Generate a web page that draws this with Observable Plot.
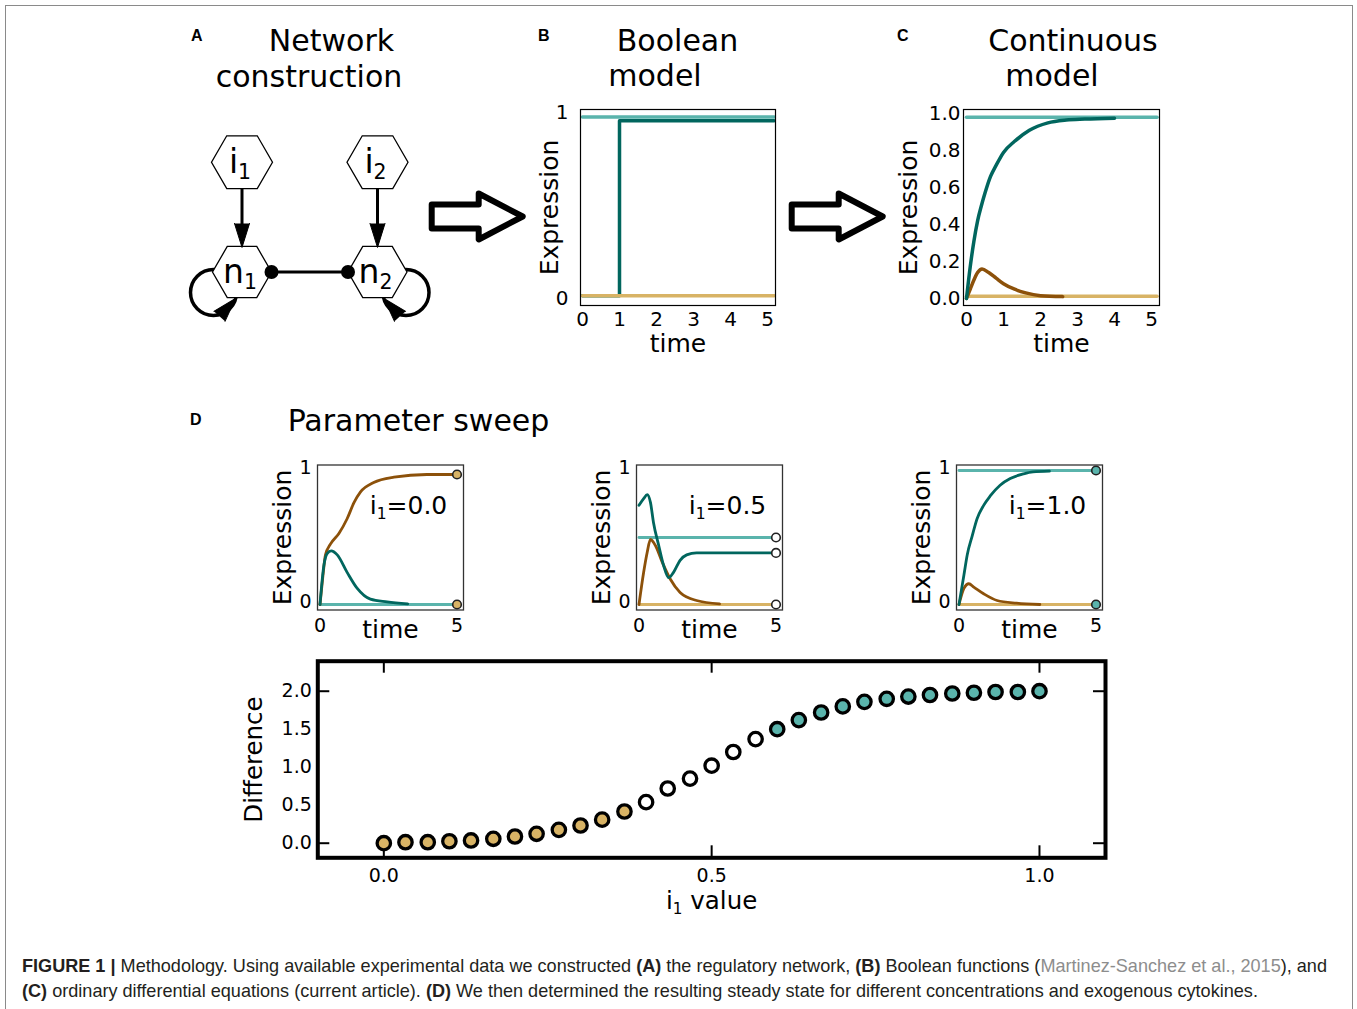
<!DOCTYPE html>
<html>
<head>
<meta charset="utf-8">
<script src="https://cdn.jsdelivr.net/npm/d3@7"></script>
<script src="https://cdn.jsdelivr.net/npm/@observablehq/plot@0.6"></script>
<style>
html,body{margin:0;padding:0;background:#fff;}
#fig{position:relative;width:1357px;height:1009px;overflow:hidden;background:#fff;font-family:"DejaVu Sans",sans-serif;color:#000;}
#border{position:absolute;left:5px;top:5px;width:1346px;height:1100px;border:1px solid #8a8a8a;}
.txt{position:absolute;white-space:nowrap;line-height:1;font-family:"DejaVu Sans",sans-serif;}
.letter{position:absolute;font-family:"Liberation Sans",Arial,sans-serif;font-weight:bold;font-size:16px;line-height:16px;}
.cap{position:absolute;left:22px;font-family:"Liberation Sans Narrow","Liberation Sans",Arial,sans-serif;font-size:18.5px;line-height:22px;color:#231f20;white-space:nowrap;transform-origin:0 50%;}
.cap b{font-weight:bold;}
.cap .ref{color:#8d8d8d;}
</style>
</head>
<body>
<div id="fig"><div id="border"></div></div>
<script>
// ---------------- colours ----------------
const TEAL_LIGHT = "#5ab4ac", TEAL_DARK = "#01665e", BROWN = "#8c510a", TAN = "#d8b365";
const FONT = '"DejaVu Sans", sans-serif';

// ---------------- Panel A: network ----------------
const nodeNames = ["i₁", "i₂", "n₁", "n₂"];
const nodeKind = ["input", "input", "node", "node"];
// diagram layout (page coordinates)
const nodeLayoutX = [241.5, 377, 241.5, 377];
const nodeLayoutY = [161.7, 161.7, 271.5, 271.5];
const activationEdges = [[0, 2], [1, 3]];      // i1 -> n1, i2 -> n2
const couplingEdges = [[2, 3]];                 // n1 -- n2
const selfLoopNodes = [2, 3];

// ---------------- Panel B: Boolean model ----------------
const boolTime = [0, 5.18];
const boolI1 = [0.975, 0.975];
const boolI2 = [0.015, 0.015];
const boolN1Time = [0, 1, 1, 5.18];
const boolN1 = [0.015, 0.015, 0.955, 0.955];
const boolTimeTicks = [0, 1, 2, 3, 4, 5];

// ---------------- Panel C: Continuous model ----------------
const contTime = [0, 5.15];
const contI1 = [0.98, 0.98];
const contI2 = [0.012, 0.012];
const contN1Time = [0, 0.1, 0.2, 0.3, 0.4, 0.5, 0.65, 0.8, 1.0, 1.3, 1.7, 2.2, 2.7, 3.2, 4.0];
const contN1 = [0, 0.17, 0.31, 0.42, 0.50, 0.57, 0.66, 0.72, 0.79, 0.85, 0.91, 0.95, 0.965, 0.97, 0.975];
const contN2Time = [0, 0.1, 0.2, 0.3, 0.42, 0.6, 0.8, 1.0, 1.3, 1.6, 2.0, 2.6];
const contN2 = [0, 0.05, 0.10, 0.14, 0.16, 0.14, 0.11, 0.08, 0.05, 0.03, 0.015, 0.01];
const contYTicks = [0, 0.2, 0.4, 0.6, 0.8, 1.0];

// ---------------- Panel D: sweep examples ----------------
const sweepLabels = ["i₁=0.0", "i₁=0.5", "i₁=1.0"];
const sweepI1 = [0, 0.5, 1.0];
const sweepI2 = [0, 0, 0];
const sweepN1Time = [
  [0, 0.14, 0.26, 0.41, 0.63, 0.99, 1.36, 1.84, 2.45, 3.2],
  [0, 0.17, 0.3, 0.42, 0.53, 0.72, 0.9, 1.08, 1.26, 1.5, 1.74, 2.1, 5.0],
  [0, 0.18, 0.3, 0.48, 0.66, 0.9, 1.14, 1.5, 1.87, 2.35, 2.7, 3.3]
];
const sweepN1 = [
  [0, 0.29, 0.38, 0.40, 0.37, 0.24, 0.12, 0.04, 0.02, 0.005],
  [0.74, 0.79, 0.82, 0.76, 0.61, 0.44, 0.29, 0.20, 0.24, 0.33, 0.37, 0.385, 0.385],
  [0, 0.22, 0.37, 0.51, 0.64, 0.74, 0.81, 0.89, 0.94, 0.975, 0.99, 0.995]
];
const sweepN2Time = [
  [0, 0.1, 0.2, 0.38, 0.69, 0.99, 1.24, 1.48, 1.96, 2.7, 3.9, 5.0],
  [0, 0.17, 0.3, 0.42, 0.6, 0.84, 1.14, 1.5, 2.1, 2.94],
  [0, 0.18, 0.36, 0.54, 0.9, 1.39, 2.1, 2.95]
];
const sweepN2 = [
  [0, 0.2, 0.37, 0.45, 0.53, 0.64, 0.76, 0.84, 0.91, 0.95, 0.97, 0.97],
  [0, 0.24, 0.39, 0.485, 0.44, 0.32, 0.19, 0.09, 0.03, 0.005],
  [0, 0.12, 0.155, 0.13, 0.08, 0.03, 0.01, 0]
];
const sweepSteadyValues = [[0.97, 0], [0.5, 0.385, 0], [1.0, 0]];
const sweepSteadyClass = ["low", "mid", "high"];
const sweepEndTime = 5;

// ---------------- Panel D: parameter sweep ----------------
const i1Values = [0, 0.033, 0.067, 0.1, 0.133, 0.167, 0.2, 0.233, 0.267, 0.3, 0.333, 0.367, 0.4, 0.433, 0.467, 0.5,
  0.533, 0.567, 0.6, 0.633, 0.667, 0.7, 0.733, 0.767, 0.8, 0.833, 0.867, 0.9, 0.933, 0.967, 1.0];
const differenceValues = [0.0, 0.013, 0.013, 0.026, 0.036, 0.058, 0.088, 0.124, 0.176, 0.233, 0.31, 0.417, 0.54, 0.72,
  0.85, 1.02, 1.2, 1.37, 1.5, 1.62, 1.72, 1.8, 1.86, 1.9, 1.93, 1.95, 1.97, 1.98, 1.99, 1.99, 2.0];
const steadyClass = ["low","low","low","low","low","low","low","low","low","low","low","low",
  "mid","mid","mid","mid","mid","mid",
  "high","high","high","high","high","high","high","high","high","high","high","high","high"];
const sweepXTicks = [0, 0.5, 1.0];
const sweepYLabels = [0, 0.5, 1.0, 1.5, 2.0];
const sweepYTicks = [0, 2.0];

const classFill = {low: TAN, mid: "#ffffff", high: TEAL_LIGHT};

// ---------------- helpers ----------------
const fig = document.getElementById("fig");
const baseStyle = {fontFamily: FONT, fontSize: "20px", color: "#000", background: "transparent", overflow: "visible"};
const rows = (ts, vs) => ts.map((t, i) => ({t, v: vs[i]}));
const SUBS = {"₁": "1", "₂": "2"};
function subscriptify(svg) {
  const NS = "http://www.w3.org/2000/svg";
  svg.querySelectorAll("text").forEach(t => {
    const s = t.textContent;
    if (!/[₁₂]/.test(s) || t.querySelector("tspan")) return;
    const fs = parseFloat(getComputedStyle(t).fontSize) || 20;
    const shift = 0.2 * fs;
    t.textContent = "";
    let buf = "", pendingUp = false;
    const flush = () => {
      if (!buf) return;
      const ts = document.createElementNS(NS, "tspan");
      ts.textContent = buf;
      if (pendingUp) { ts.setAttribute("dy", -shift); pendingUp = false; }
      t.appendChild(ts); buf = "";
    };
    for (const ch of s) {
      if (SUBS[ch]) {
        flush();
        const ts = document.createElementNS(NS, "tspan");
        ts.textContent = SUBS[ch];
        ts.setAttribute("font-size", (0.62 * fs) + "px");
        ts.setAttribute("dy", pendingUp ? 0 : shift);
        pendingUp = true;
        t.appendChild(ts);
      } else buf += ch;
    }
    flush();
  });
}
function place(el, left, top) {
  el.style.position = "absolute";
  el.style.left = left + "px";
  el.style.top = top + "px";
  el.style.overflow = "visible";
  el.style.maxWidth = "none";
  fig.appendChild(el);
  subscriptify(el);
}
function addText(html, cx, baseline, size, anchor = "middle") {
  const d = document.createElement("div");
  d.className = "txt";
  d.style.fontSize = size + "px";
  d.innerHTML = html;
  fig.appendChild(d);
  const w = d.getBoundingClientRect().width;
  d.style.left = (anchor === "middle" ? cx - w / 2 : cx) + "px";
  d.style.top = (baseline - 0.846 * size) + "px";
}
function addLetter(ch, left, baseline) {
  const d = document.createElement("div");
  d.className = "letter";
  d.textContent = ch;
  d.style.left = left + "px";
  d.style.top = (baseline - 13.5) + "px";
  fig.appendChild(d);
}
// axis titles
const yTitle = (txt, dx, size = 25) => Plot.text([txt], {frameAnchor: "left", rotate: -90, dx, fontSize: size, textAnchor: "middle", lineAnchor: "middle"});
const xTitle = (txt, dy, size = 25, dx = 0) => Plot.text([txt], {frameAnchor: "bottom", dy, dx, fontSize: size, textAnchor: "middle", lineAnchor: "middle"});

// ---------------- titles ----------------
addText("Network", 331.5, 51.5, 30);
addText("construction", 309, 87, 30);
addText("Boolean", 677.5, 51.5, 30);
addText("model", 655, 86.5, 30);
addText("Continuous", 1073, 51.5, 30);
addText("model", 1052, 86.5, 30);
addText("Parameter sweep", 418.5, 431, 30);
addLetter("A", 191, 41.7);
addLetter("B", 538, 41.7);
addLetter("C", 897, 41.7);
addLetter("D", 190, 425);

// ---------------- Panel A ----------------
const flatHexagon = {
  draw(ctx, size) {
    const r = Math.sqrt(size / Math.PI), h = r * Math.sqrt(3) / 2;
    ctx.moveTo(r, 0); ctx.lineTo(r / 2, h); ctx.lineTo(-r / 2, h);
    ctx.lineTo(-r, 0); ctx.lineTo(-r / 2, -h); ctx.lineTo(r / 2, -h); ctx.closePath();
  }
};
const nodes = nodeNames.map((name, i) => ({name, kind: nodeKind[i], x: nodeLayoutX[i], y: nodeLayoutY[i]}));
const hexR = {input: 30.5, node: 29.5};
const actLinks = activationEdges.map(([a, b]) => ({
  x1: nodes[a].x, y1: nodes[a].y + hexR.input * 0.866,
  x2: nodes[b].x, y2: nodes[b].y - hexR.node * 0.866 - 8
}));
const actHeads = activationEdges.map(([a, b]) => ({x: nodes[b].x, y: nodes[b].y - hexR.node * 0.866 + 1, rotate: 180}));
const coupLinks = couplingEdges.map(([a, b]) => ({x1: nodes[a].x + hexR.node, y1: nodes[a].y, x2: nodes[b].x - hexR.node, y2: nodes[b].y}));
const coupEnds = coupLinks.flatMap(l => [{x: l.x1, y: l.y1}, {x: l.x2, y: l.y2}]);
const loops = selfLoopNodes.map((k, j) => ({x: nodes[k].x + (j === 0 ? -28.5 : 28.5), y: nodes[k].y + 20.5}));
const loopHeads = selfLoopNodes.map((k, j) => ({x: nodes[k].x + (j === 0 ? -6.5 : 6.5), y: nodes[k].y + 26.5, rotate: j === 0 ? 42 : -42}));

const net = Plot.plot({
  width: 270, height: 220, margin: 0,
  x: {domain: [180, 450], axis: null}, y: {domain: [340, 120], axis: null},
  style: baseStyle,
  marks: [
    Plot.dot(loops, {x: "x", y: "y", r: 23, fill: "none", stroke: "#000", strokeWidth: 3.5}),
    Plot.link(actLinks, {x1: "x1", y1: "y1", x2: "x2", y2: "y2", stroke: "#000", strokeWidth: 3}),
    Plot.link(coupLinks, {x1: "x1", y1: "y1", x2: "x2", y2: "y2", stroke: "#000", strokeWidth: 3}),
    Plot.dot(nodes.filter(d => d.kind === "input"), {x: "x", y: "y", r: hexR.input, symbol: flatHexagon, fill: "#fff", stroke: "#000", strokeWidth: 1.3}),
    Plot.dot(nodes.filter(d => d.kind === "node"), {x: "x", y: "y", r: hexR.node, symbol: flatHexagon, fill: "#fff", stroke: "#000", strokeWidth: 1.3}),
    Plot.text(nodes, {x: "x", y: "y", text: "name", fontSize: 33, dx: -2, dy: 0}),
    Plot.vector(actHeads.concat(loopHeads), {x: "x", y: "y", rotate: "rotate", length: 24, r: 7.5, shape: "spike", anchor: "end", fill: "#000", stroke: "#000", strokeWidth: 1}),
    Plot.dot(coupEnds, {x: "x", y: "y", r: 7, fill: "#000"})
  ]
});
place(net, 180, 120);

// ---------------- stage arrows ----------------
const blockArrow = {
  draw(ctx, size) {
    const r = Math.sqrt(size / Math.PI);
    const hx = r * 0.033, hh = r * 0.505, sh = r * 0.264;
    ctx.moveTo(-r, -sh); ctx.lineTo(hx, -sh); ctx.lineTo(hx, -hh); ctx.lineTo(r, 0);
    ctx.lineTo(hx, hh); ctx.lineTo(hx, sh); ctx.lineTo(-r, sh); ctx.closePath();
  }
};
const stageArrows = [{x: 476.7, y: 216}, {x: 836.7, y: 216}];
const conn = Plot.plot({
  width: 520, height: 90, margin: 0,
  x: {domain: [400, 920], axis: null}, y: {domain: [260, 170], axis: null},
  style: baseStyle,
  marks: [Plot.dot(stageArrows, {x: "x", y: "y", r: 45.5, symbol: blockArrow, fill: "#fff", stroke: "#000", strokeWidth: 6, strokeLinejoin: "round"})]
});
place(conn, 400, 170);

// ---------------- Panel B ----------------
const panelB = Plot.plot({
  width: 270, height: 270, marginLeft: 60, marginRight: 15, marginTop: 19, marginBottom: 55,
  style: baseStyle,
  x: {domain: [-0.054, 5.216]}, y: {domain: [-0.038, 1.016]},
  marks: [
    Plot.axisX({ticks: boolTimeTicks, tickFormat: "d", tickSize: 0, tickPadding: 6, fontSize: 20, label: null}),
    Plot.axisY({ticks: [0, 1], tickFormat: "d", tickSize: 0, tickPadding: 12, fontSize: 20, label: null}),
    Plot.line(rows(boolN1Time, boolN1), {x: "t", y: "v", stroke: TEAL_DARK, strokeWidth: 3.5}),
    Plot.line(rows(boolTime, boolI1), {x: "t", y: "v", stroke: TEAL_LIGHT, strokeWidth: 3.5}),
    Plot.line(rows(boolTime, boolI2), {x: "t", y: "v", stroke: TAN, strokeWidth: 3.5}),
    Plot.frame({stroke: "#000", strokeWidth: 1.2}),
    yTitle("Expression", -31),
    xTitle("time", 38.5)
  ]
});
place(panelB, 520, 90);

// ---------------- Panel C ----------------
const panelC = Plot.plot({
  width: 300, height: 270, marginLeft: 83, marginRight: 21, marginTop: 19, marginBottom: 55,
  style: baseStyle,
  x: {domain: [-0.081, 5.216]}, y: {domain: [-0.038, 1.022]},
  marks: [
    Plot.axisX({ticks: boolTimeTicks, tickFormat: "d", tickSize: 0, tickPadding: 6, fontSize: 20, label: null}),
    Plot.axisY({ticks: contYTicks, tickFormat: ".1f", tickSize: 0, tickPadding: 3, fontSize: 20, label: null}),
    Plot.line(rows(contTime, contI2), {x: "t", y: "v", stroke: TAN, strokeWidth: 3.5}),
    Plot.line(rows(contTime, contI1), {x: "t", y: "v", stroke: TEAL_LIGHT, strokeWidth: 3.5}),
    Plot.line(rows(contN2Time, contN2), {x: "t", y: "v", stroke: BROWN, strokeWidth: 3.5, curve: "monotone-x"}),
    Plot.line(rows(contN1Time, contN1), {x: "t", y: "v", stroke: TEAL_DARK, strokeWidth: 3.5, curve: "monotone-x"}),
    Plot.frame({stroke: "#000", strokeWidth: 1.2}),
    yTitle("Expression", -55),
    xTitle("time", 38.5)
  ]
});
place(panelC, 880, 90);

// ---------------- Panel D small plots ----------------
const smallLeft = [260, 579, 899];
sweepLabels.forEach((label, k) => {
  const constRows = (v) => rows([0, sweepEndTime], [v, v]);
  const ends = sweepSteadyValues[k].map(v => ({t: sweepEndTime, v}));
  const p = Plot.plot({
    width: 220, height: 190, marginLeft: 57, marginRight: 17, marginTop: 9.5, marginBottom: 35.5,
    style: baseStyle,
    x: {domain: [-0.091, 5.237]}, y: {domain: [-0.041, 1.041]},
    marks: [
      Plot.axisX({ticks: [0, 5], tickFormat: "d", tickSize: 0, tickPadding: 8, fontSize: 19, label: null}),
      Plot.axisY({ticks: [0, 1], tickFormat: "d", tickSize: 0, tickPadding: 6, fontSize: 19, dy: -3, label: null}),
      Plot.line(constRows(sweepI2[k]), {x: "t", y: "v", stroke: TAN, strokeWidth: 2.8}),
      Plot.line(constRows(sweepI1[k]), {x: "t", y: "v", stroke: TEAL_LIGHT, strokeWidth: 2.8}),
      Plot.line(rows(sweepN2Time[k], sweepN2[k]), {x: "t", y: "v", stroke: BROWN, strokeWidth: 2.8, curve: "monotone-x"}),
      Plot.line(rows(sweepN1Time[k], sweepN1[k]), {x: "t", y: "v", stroke: TEAL_DARK, strokeWidth: 2.8, curve: "monotone-x"}),
      Plot.frame({stroke: "#333", strokeWidth: 1.3}),
      Plot.dot(ends, {x: "t", y: "v", r: 4.3, fill: classFill[sweepSteadyClass[k]], stroke: "#222", strokeWidth: 1.6}),
      Plot.text([label], {frameAnchor: "top", dx: 18, dy: 40.5, fontSize: 25, textAnchor: "middle", lineAnchor: "middle"}),
      yTitle("Expression", -35),
      xTitle("time", 19.5)
    ]
  });
  place(p, smallLeft[k], 455);
});

// ---------------- Panel D sweep scatter ----------------
const sweepRows = i1Values.map((x, i) => ({x, y: differenceValues[i], s: steadyClass[i]}));
const SW = 900, SH = 290, SML = 87.3, SMR = 25, SMT = 20.7, SMB = 72.7;
const FW = SW - SML - SMR, FH = SH - SMT - SMB;
const scatter = Plot.plot({
  width: SW, height: SH, marginLeft: SML, marginRight: SMR, marginTop: SMT, marginBottom: SMB,
  style: baseStyle,
  x: {domain: [-0.1007, 1.1007]}, y: {domain: [-0.192, 2.395]},
  marks: [
    Plot.tickX(sweepXTicks, {x: d => d, insetBottom: FH - 12, stroke: "#000", strokeWidth: 2}),
    Plot.tickX(sweepXTicks, {x: d => d, insetTop: FH - 12, stroke: "#000", strokeWidth: 2}),
    Plot.tickY(sweepYTicks, {y: d => d, insetRight: FW - 12, stroke: "#000", strokeWidth: 2}),
    Plot.tickY(sweepYTicks, {y: d => d, insetLeft: FW - 12, stroke: "#000", strokeWidth: 2}),
    Plot.axisX({ticks: sweepXTicks, tickFormat: ".1f", tickSize: 0, tickPadding: 11, fontSize: 19, label: null}),
    Plot.axisY({ticks: sweepYLabels, tickFormat: ".1f", tickSize: 0, tickPadding: 6, fontSize: 19, label: null}),
    ...["low", "mid", "high"].map(c => Plot.dot(sweepRows.filter(d => d.s === c), {x: "x", y: "y", r: 6.7, fill: classFill[c], stroke: "#000", strokeWidth: 3.3})),
    Plot.frame({stroke: "#000", strokeWidth: 4}),
    yTitle("Difference", -64, 24.5),
    xTitle("i₁ value", 43, 24.5)
  ]
});
place(scatter, 230, 640);

// ---------------- caption ----------------
const cap1 = document.createElement("div");
cap1.className = "cap";
cap1.innerHTML = '<b>FIGURE 1 |</b> Methodology. Using available experimental data we constructed <b>(A)</b> the regulatory network, <b>(B)</b> Boolean functions (<span class="ref">Martinez-Sanchez et al., 2015</span>), and';
cap1.style.top = (972.5 - 17.4) + "px";
const cap2 = document.createElement("div");
cap2.className = "cap";
cap2.innerHTML = '<b>(C)</b> ordinary differential equations (current article). <b>(D)</b> We then determined the resulting steady state for different concentrations and exogenous cytokines.';
cap2.style.top = (997.5 - 17.4) + "px";
fig.appendChild(cap1); fig.appendChild(cap2);
const w1 = cap1.getBoundingClientRect().width;
const sx = 1305 / w1;
cap1.style.transform = `scaleX(${sx})`;
cap2.style.transform = `scaleX(${sx})`;
</script>
</body>
</html>
